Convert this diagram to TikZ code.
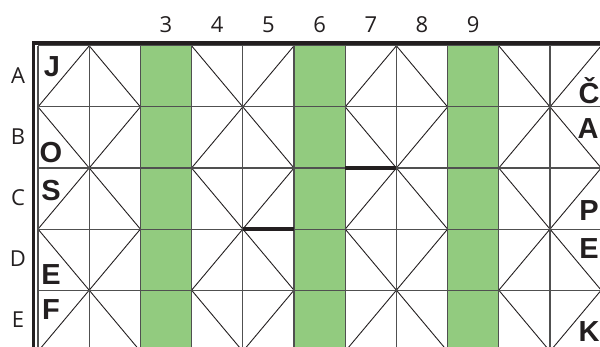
\documentclass[tikz,border=0pt]{standalone}
\usepackage{fontspec}
\setmainfont{Open Sans}
\newfontfamily\lettersfont{Liberation Sans}
\definecolor{colgreen}{RGB}{146,203,127}
\definecolor{gridgray}{RGB}{80,80,80}
\definecolor{ink}{RGB}{35,31,32}
\begin{document}
\begin{tikzpicture}[x=1pt,y=-1pt,
  gridline/.style={draw=gridgray, line width=1.1pt},
  diag/.style={draw=ink, line width=0.9pt},
  thickbar/.style={draw=ink, line width=4pt},
  border/.style={draw=ink, line width=3.4pt},
  axislabel/.style={font=\fontsize{22}{26}\selectfont, text=ink, inner sep=0pt},
  letter/.style={font=\lettersfont\bfseries\fontsize{29}{32}\selectfont, text=ink, inner sep=0pt}]
\useasboundingbox (0,0) rectangle (600,347);
\def\xo{38}
\def\w{51.2}
\def\yo{45.8}
\def\h{61.1}
\begin{scope}
\clip (0,0) rectangle (600,347);
% green columns
\foreach \c in {2,5,8}
  \fill[colgreen] (\xo+\c*\w,\yo) rectangle (\xo+\c*\w+\w,360);
% diagonals
\foreach \c in {0,1,3,4,6,7,9,10}{
  \foreach \r in {0,...,4}{
    \pgfmathtruncatemacro{\dpar}{mod(\c+\r,2)}
    \ifnum\dpar=0
      \draw[diag] (\xo+\c*\w,\yo+\r*\h+\h) -- (\xo+\c*\w+\w,\yo+\r*\h);
    \else
      \draw[diag] (\xo+\c*\w,\yo+\r*\h) -- (\xo+\c*\w+\w,\yo+\r*\h+\h);
    \fi
  }
}
% grid lines
\foreach \r in {0,...,4}
  \draw[gridline] (\xo,\yo+\r*\h) -- (610,\yo+\r*\h);
\foreach \c in {0,...,10}
  \draw[gridline] (\xo+\c*\w,\yo) -- (\xo+\c*\w,360);
% thick segments
\draw[thickbar] (\xo+6*\w,\yo+2*\h) -- (\xo+7*\w,\yo+2*\h);
\draw[thickbar] (\xo+4*\w,\yo+3*\h) -- (\xo+5*\w,\yo+3*\h);
% border
\draw[border] (33.5,360) -- (33.5,43.2) -- (610,43.2);
\end{scope}
% column labels
\foreach \n [count=\i from 2] in {3,4,5,6,7,8,9}
  \node[axislabel] (col\n) at (\xo+\i*\w+0.5*\w,25) {\n};
% row labels
\foreach \l [count=\i from 0] in {A,B,C,D,E}
  \node[axislabel] (row\l) at (18,\yo+\i*\h+0.5*\h-1) {\l};
% letters left
\node[letter] (lJ) at (52,67) {J};
\node[letter] (lO) at (51,153) {O};
\node[letter] (lS) at (51,191) {S};
\node[letter] (lE) at (51,275) {E};
\node[letter] (lF) at (51,310) {F};
% letters right
\node[letter] (rC) at (589,91) {Č};
\node[letter] (rA) at (588,129) {A};
\node[letter] (rP) at (589,211) {P};
\node[letter] (rE) at (589,249) {E};
\node[letter] (rK) at (589,332) {K};
\end{tikzpicture}
\end{document}
